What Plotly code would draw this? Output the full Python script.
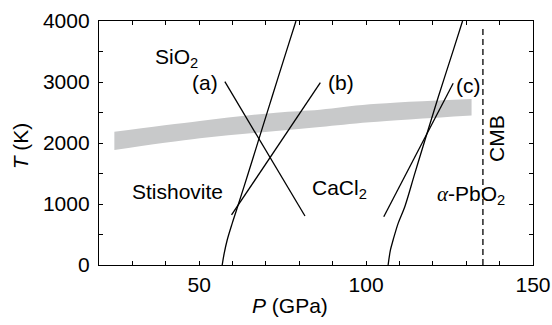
import plotly.graph_objects as go

# Data
band_P = [24.6, 50.2, 73.0, 86.2, 101.1, 131.6]
band_top = [2185, 2361, 2497, 2545, 2634, 2721]
band_bot = [1885, 2077, 2197, 2262, 2339, 2451]

stish_P = [56.9, 57.5, 58.4, 59.9, 61.2, 64.7, 67.7, 71.8, 76.4, 79.0]
stish_T = [0, 191, 410, 683, 902, 1503, 2030, 2750, 3552, 4000]

pbo2_P = [106.6, 107.3, 108.1, 109.6, 111.6, 114.6, 117.6, 121.6, 126.3, 128.9]
pbo2_T = [0, 246, 410, 683, 956, 1503, 2040, 2750, 3552, 4000]

line_a_P = [57.7, 81.7]
line_a_T = [3005, 803]
line_b_P = [59.7, 86.3]
line_b_T = [820, 2989]
line_c_P = [105.3, 126.1]
line_c_T = [792, 2979]

cmb_P = [135, 135]
cmb_T = [0, 3920]

FONT = "Liberation Sans, Arial, Helvetica, sans-serif"
fs = 21

fig = go.Figure()
fig.add_trace(go.Scatter(x=band_P, y=band_bot, mode="lines",
                         line=dict(width=0, shape="spline", color="#c8c9ca"), hoverinfo="skip"))
fig.add_trace(go.Scatter(x=band_P, y=band_top, mode="lines", fill="tonexty",
                         fillcolor="#c8c9ca",
                         line=dict(width=0, shape="spline", color="#c8c9ca"), hoverinfo="skip"))
for xs, ys, shp in [(stish_P, stish_T, "spline"), (pbo2_P, pbo2_T, "spline"),
                    (line_a_P, line_a_T, "linear"), (line_b_P, line_b_T, "linear"),
                    (line_c_P, line_c_T, "linear")]:
    fig.add_trace(go.Scatter(x=xs, y=ys, mode="lines",
                             line=dict(color="black", width=1.3, shape=shp)))
fig.add_trace(go.Scatter(x=cmb_P, y=cmb_T, mode="lines",
                         line=dict(color="black", width=1.3, dash="6px,4px")))

ann = [
    dict(x=36.8, y=3390, text="SiO<sub>2</sub>", xanchor="left", yanchor="middle", xshift=-2),
    dict(x=55.5, y=3000, text="(a)", xanchor="right", yanchor="middle", xshift=2),
    dict(x=89.3, y=2984, text="(b)", xanchor="left", yanchor="middle", xshift=-4),
    dict(x=127.4, y=2950, text="(c)", xanchor="left", yanchor="middle", xshift=-4),
    dict(x=43.5, y=1208, text="Stishovite", xanchor="center", yanchor="middle"),
    dict(x=83.8, y=1246, text="CaCl<sub>2</sub>", xanchor="left", yanchor="middle", xshift=-2),
    dict(x=121.1, y=1143,
         text="<span style='font-family:Liberation Serif, DejaVu Serif, serif; font-style:italic'>α</span>-PbO<sub>2</sub>",
         xanchor="left", yanchor="middle", xshift=-2),
    dict(x=138.9, y=2082, text="CMB", xanchor="center", yanchor="middle", textangle=-90),
]
annotations = []
for a in ann:
    a.update(xref="x", yref="y", showarrow=False, font=dict(family=FONT, size=fs, color="black"))
    annotations.append(a)
annotations.append(dict(xref="paper", yref="paper", x=0.44, y=-0.164, text="<i>P</i> (GPa)",
                        showarrow=False, xanchor="center", yanchor="middle",
                        font=dict(family=FONT, size=fs, color="black")))
annotations.append(dict(xref="paper", yref="paper", x=-0.18, y=0.49, text="<i>T</i> (K)",
                        showarrow=False, xanchor="center", yanchor="middle", textangle=-90,
                        font=dict(family=FONT, size=fs, color="black")))

axis_common = dict(showgrid=False, zeroline=False, showline=True, linecolor="black",
                   linewidth=1.3, mirror="ticks", ticks="inside", ticklen=4,
                   tickwidth=1.3, tickcolor="black", automargin=False,
                   tickfont=dict(family=FONT, size=fs, color="black"))

fig.update_layout(
    width=552, height=325,
    margin=dict(l=99, r=19, t=21, b=60),
    plot_bgcolor="white", paper_bgcolor="white",
    showlegend=False,
    annotations=annotations,
    xaxis=dict(range=[20, 150], tickvals=[50, 100, 150], ticklabelstandoff=1,
               minor=dict(tickvals=list(range(30, 150, 10)), ticks="inside", ticklen=4,
                          tickwidth=1.3, tickcolor="black"),
               **axis_common),
    yaxis=dict(range=[0, 4000], tickvals=[0, 1000, 2000, 3000, 4000], ticklabelstandoff=4,
               minor=dict(tickvals=[500, 1500, 2500, 3500], ticks="inside", ticklen=4,
                          tickwidth=1.3, tickcolor="black"),
               **axis_common),
)

fig.write_html("out.html")
